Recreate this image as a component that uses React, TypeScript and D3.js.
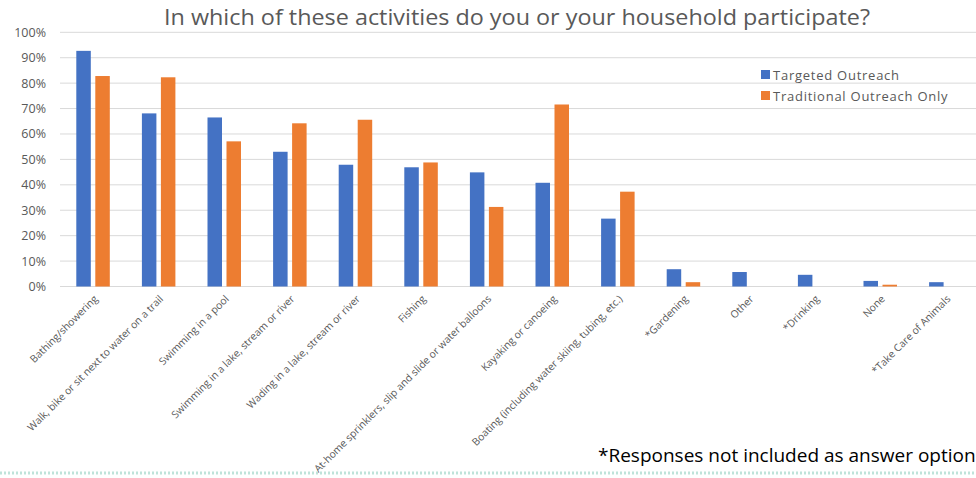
import React from "react";
import * as d3 from "d3";

const categories = [
  "Bathing/showering",
  "Walk, bike or sit next to water on a trail",
  "Swimming in a pool",
  "Swimming in a lake, stream or river",
  "Wading in a lake, stream or river",
  "Fishing",
  "At-home sprinklers, slip and slide or water balloons",
  "Kayaking or canoeing",
  "Boating (including water skiing, tubing, etc.)",
  "*Gardening",
  "Other",
  "*Drinking",
  "None",
  "*Take Care of Animals",
];
const targeted = [92.7, 68.1, 66.5, 53.0, 47.9, 46.9, 44.9, 40.8, 26.7, 6.8, 5.7, 4.6, 2.2, 1.7];
const traditional = [82.8, 82.3, 57.1, 64.2, 65.6, 48.8, 31.3, 71.6, 37.3, 1.7, 0, 0, 0.7, 0];
const yTicks = [0, 10, 20, 30, 40, 50, 60, 70, 80, 90, 100];
const seriesNames = ["Targeted Outreach", "Traditional Outreach Only"];
const colors = ["#4472C4", "#ED7D31"];

const W = 976;
const H = 478;
const font = "'Open Sans', 'Noto Sans', sans-serif";

export default function App() {
  const x = d3
    .scaleBand<string>()
    .domain(categories)
    .range([60, 60 + 65.6 * categories.length])
    .padding(0);
  const y = d3.scaleLinear().domain([0, 100]).range([286.5, 32.3]);
  const barW = 14.5;
  return (
    <svg width={W} height={H} style={{ position: "absolute", left: 0, top: 0, background: "#fff" }}>
      <text
        x={164}
        y={25}
        fontFamily={font}
        fontSize={21}
        fill="#595959"
        textLength={706}
        lengthAdjust="spacingAndGlyphs"
      >
        In which of these activities do you or your household participate?
      </text>
      {yTicks.map((t) => (
        <g key={t}>
          <line x1={60} x2={W} y1={y(t)} y2={y(t)} stroke="#d9d9d9" strokeWidth={1} />
          <text x={46} y={y(t) + 4.5} textAnchor="end" fontFamily={font} fontSize={12.5} fill="#595959">
            {t}%
          </text>
        </g>
      ))}
      {categories.map((c, i) => {
        const cx = (x(c) as number) + x.bandwidth() / 2;
        return (
          <g key={c}>
            {targeted[i] > 0 && (
              <rect x={cx - 16.5} y={y(targeted[i])} width={barW} height={y(0) - y(targeted[i])} fill={colors[0]} />
            )}
            {traditional[i] > 0 && (
              <rect x={cx + 2.5} y={y(traditional[i])} width={barW} height={y(0) - y(traditional[i])} fill={colors[1]} />
            )}
            <text
              transform={`translate(${cx + 3},${297}) rotate(-45)`}
              textAnchor="end"
              fontFamily={font}
              fontSize={10.3}
              fill="#595959"
              dy="0.35em"
            >
              {c}
            </text>
          </g>
        );
      })}
      {seriesNames.map((s, i) => (
        <g key={s}>
          <rect x={761} y={70 + i * 21} width={9} height={9} fill={colors[i]} />
          <text x={773} y={79.5 + i * 21} fontFamily={font} fontSize={13} fill="#595959" letterSpacing={0.75}>
            {s}
          </text>
        </g>
      ))}
      <text x={598} y={462} fontFamily={font} fontSize={19} fill="#000">
        *Responses not included as answer option
      </text>
      <line x1={0} x2={W} y1={473} y2={473} stroke="#bfe3da" strokeWidth={3} strokeDasharray="2,2" />
    </svg>
  );
}
